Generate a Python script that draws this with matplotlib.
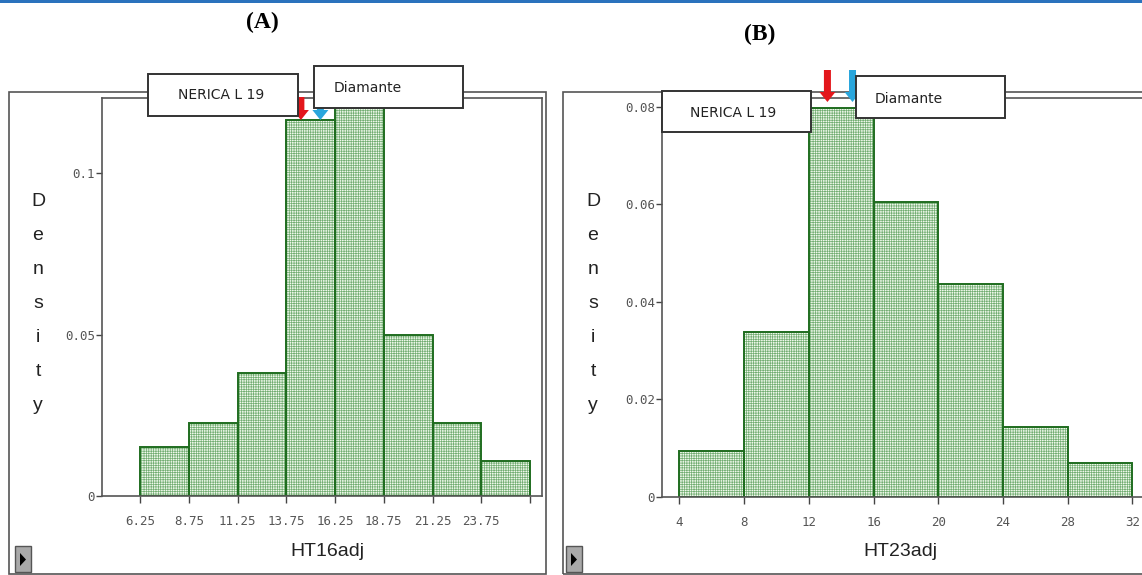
import numpy as np
import matplotlib
matplotlib.use('Agg')
import matplotlib.pyplot as plt
from matplotlib.patches import Rectangle, Polygon

# panel A: HT16adj histogram (density)
edges_a = [6.25, 8.75, 11.25, 13.75, 16.25, 18.75, 21.25, 23.75, 26.25]
dens_a = [0.0153, 0.0225, 0.038, 0.1165, 0.125, 0.050, 0.0225, 0.0108]
ticklab_a = ['6.25', '8.75', '11.25', '13.75', '16.25', '18.75', '21.25', '23.75', '']
yticks_a = [0, 0.05, 0.1]
yticklab_a = ['0', '0.05', '0.1']

# panel B: HT23adj histogram (density)
edges_b = [4, 8, 12, 16, 20, 24, 28, 32]
dens_b = [0.0093, 0.0337, 0.0797, 0.0604, 0.0436, 0.0142, 0.0070]
ticklab_b = ['4', '8', '12', '16', '20', '24', '28', '32']
yticks_b = [0, 0.02, 0.04, 0.06, 0.08]
yticklab_b = ['0', '0.02', '0.04', '0.06', '0.08']

# cultivar markers (value on x axis)
cultivars = ['NERICA L 19', 'Diamante']
mark_a = [14.5, 15.5]
mark_b = [13.15, 14.7]
arrow_cols = ['#e3161b', '#2aa6dc']

W, H = 1142, 575
plt.rcParams['hatch.linewidth'] = 0.5

fig = plt.figure(figsize=(W / 100, H / 100), dpi=100)


def fx(x):
    return x / W


def fy(y):
    return 1 - y / H


def hist_panel(rect, edges, dens, ticklab, yt, ytl, xlim, ylim, marks, top_px, tip_px):
    ax = fig.add_axes(rect)
    e = np.array(edges, dtype=float)
    w = np.diff(e)
    ax.bar(e[:-1], dens, width=w, align='edge', facecolor='#f0f9ec',
           edgecolor='#72ad72', linewidth=0, hatch='+++++++', zorder=1)
    ax.bar(e[:-1], dens, width=w, align='edge', fill=False,
           edgecolor='#1f6d1f', linewidth=1.4, zorder=2)
    ax.set_xlim(xlim)
    ax.set_ylim(ylim)
    ax.set_xticks(edges)
    ax.set_xticklabels(ticklab, family='DejaVu Sans Mono', fontsize=9, color='#555555')
    ax.set_yticks(yt)
    ax.set_yticklabels(ytl, family='DejaVu Sans Mono', fontsize=9, color='#555555')
    ax.tick_params(axis='x', direction='out', length=5, width=1, color='#444444', pad=9)
    ax.tick_params(axis='y', direction='out', length=4, width=1, color='#444444', pad=1)
    for s in ax.spines.values():
        s.set_color('#555555')
        s.set_linewidth(1.2)
    # arrows pointing down onto the x positions of the cultivars
    for xv, c in zip(marks, arrow_cols):
        xd = ax.transData.transform((xv, 0))[0]
        neck = tip_px - 10
        fig.patches.append(Polygon(
            [(xd - 3.5, H - top_px), (xd + 3.5, H - top_px), (xd + 3.5, H - neck),
             (xd + 8, H - neck), (xd, H - tip_px), (xd - 8, H - neck), (xd - 3.5, H - neck)],
            closed=True, transform=None, facecolor=c, edgecolor='none', zorder=1.5))
    return ax


ax_a = hist_panel([fx(101.7), fy(496), (541.7 - 101.7) / W, (496 - 98) / H],
                  edges_a, dens_a, ticklab_a, yticks_a, yticklab_a,
                  (4.285, 26.85), (0, 0.1234), mark_a, 97, 120)
ax_b = hist_panel([fx(661.7), fy(496.7), (1160 - 661.7) / W, (496.7 - 98) / H],
                  edges_b, dens_b, ticklab_b, yticks_b, yticklab_b,
                  (2.91, 33.7), (0, 0.0818), mark_b, 70, 102)

# outer window frames (double top line)
for x0, x1 in [(9, 546), (563, 1170)]:
    fig.patches.append(Rectangle((fx(x0), fy(574)), fx(x1 - x0), (574 - 92) / H,
                                 transform=fig.transFigure, fill=False,
                                 edgecolor='#555555', linewidth=1.2, zorder=1))

# label boxes: (left, top, right, bottom, text x, text y, ha)
boxes = [
    (148, 74, 298, 116, 221, 95, 'center'),
    (314, 66, 463, 108, 334, 88, 'left'),
    (662, 91, 811, 132, 733, 113, 'center'),
    (856, 76, 1005, 118, 875, 99, 'left'),
]
names = [cultivars[0], cultivars[1], cultivars[0], cultivars[1]]
for (l, t, r, b, tx, ty, ha), nm in zip(boxes, names):
    fig.patches.append(Rectangle((fx(l), fy(b)), fx(r - l), (b - t) / H,
                                 transform=fig.transFigure, facecolor='white',
                                 edgecolor='#333333', linewidth=1.4, zorder=2))
    fig.text(fx(tx), fy(ty), nm, ha=ha, va='center', fontsize=10,
             family='DejaVu Sans', color='#222222', zorder=3)

# stacked y label and x labels
for xl in [38, 593]:
    for i, ch in enumerate('Density'):
        fig.text(fx(xl), fy(201 + i * 34), ch, ha='center', va='center',
                 fontsize=14, family='Liberation Sans', color='#222222')
fig.text(fx(327), fy(551), 'HT16adj', ha='center', va='center', fontsize=14,
         family='Liberation Sans', color='#222222')
fig.text(fx(900), fy(551), 'HT23adj', ha='center', va='center', fontsize=14,
         family='Liberation Sans', color='#222222')

# small scroll buttons
for bx in [15, 566]:
    fig.patches.append(Rectangle((fx(bx), fy(572)), fx(16), 26 / H, transform=fig.transFigure,
                                 facecolor='#a9a9a9', edgecolor='#555555', linewidth=1, zorder=2))
    fig.patches.append(Polygon([(fx(bx + 5), fy(553)), (fx(bx + 5), fy(566)), (fx(bx + 11), fy(559.5))],
                               closed=True, transform=fig.transFigure, facecolor='black',
                               edgecolor='none', zorder=3))

# panel titles and top rule
fig.text(fx(262), fy(22), '(A)', ha='center', va='center', fontsize=17,
         family='Liberation Serif', weight='bold')
fig.text(fx(760), fy(34), '(B)', ha='center', va='center', fontsize=17,
         family='Liberation Serif', weight='bold')
fig.patches.append(Rectangle((0, fy(3)), 1, 3 / H, transform=fig.transFigure,
                             facecolor='#2a72bd', edgecolor='none', zorder=3))

fig.savefig('out.png', dpi=100)
